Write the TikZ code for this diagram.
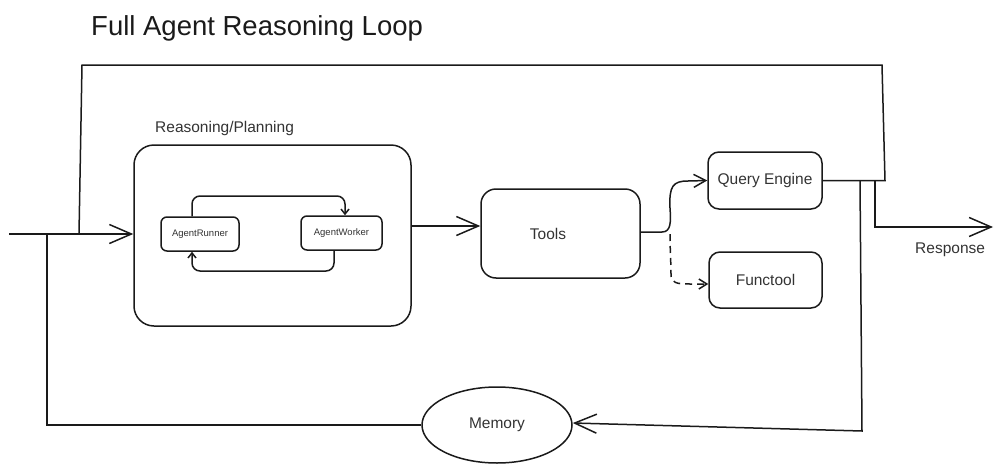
\documentclass[tikz,border=0pt]{standalone}
\usepackage{fontspec}
\setmainfont{Liberation Sans}
\usetikzlibrary{arrows.meta,shapes.geometric}
\definecolor{txt}{HTML}{333333}
\definecolor{ln}{HTML}{1A1A1A}
\tikzset{
  box/.style={draw=ln, line width=1.5pt, text=txt, font=\fontsize{15.5}{18}\selectfont, inner sep=0pt},
  smallbox/.style={draw=ln, line width=1.5pt, rounded corners=6pt, text=txt, font=\fontsize{9.5}{11}\selectfont, inner sep=0pt},
  conn/.style={draw=ln, line width=1.5pt},
  arr/.style={conn, -{Straight Barb[length=22pt, width=19pt, line width=1.5pt]}},
  arrs/.style={conn, -{Straight Barb[length=5pt, width=8pt, line width=1.5pt]}},
  lbl/.style={text=txt, font=\fontsize{15.5}{18}\selectfont, inner sep=0pt}
}
\begin{document}
\begin{tikzpicture}[x=1pt,y=-1pt]
\useasboundingbox (0,0) rectangle (1002,474);
% title and labels
\node[anchor=base west, inner sep=0pt, text=ln, font=\fontsize{27.5}{32}\selectfont] (title) at (91,35) {Full Agent Reasoning Loop};
\node[lbl, anchor=base west] (rplabel) at (155,132) {Reasoning/Planning};
% nodes
\node[box, rounded corners=20pt, minimum width=277pt, minimum height=181pt] (rp) at (272.5,235.5) {};
\node[smallbox, minimum width=78pt, minimum height=34pt] (ar) at (200,234) {AgentRunner};
\node[smallbox, minimum width=81pt, minimum height=34pt] (aw) at (341.5,233) {AgentWorker};
\node[box, rounded corners=15pt, minimum width=159pt, minimum height=89pt] (tools) at (560.5,233.5) {Tools\hspace*{25pt}};
\node[box, rounded corners=11pt, minimum width=114pt, minimum height=57pt] (qe) at (765,180.5) {Query Engine};
\node[box, rounded corners=11pt, minimum width=113pt, minimum height=56pt] (ft) at (765.5,280) {Functool};
\node[box, ellipse, minimum width=150pt, minimum height=76pt] (mem) at (497,425) {Memory};
\node[lbl, anchor=base west] (resp) at (915,253) {Response};
% coordinates
\coordinate (in) at (9,234);
\coordinate (arrowy) at (0,226);
\coordinate (topR) at (885,180.5);
\coordinate (topRt) at (882,65);
\coordinate (topLt) at (82,65);
\coordinate (topLb) at (79,234);
\coordinate (respA) at (875,180.5);
\coordinate (respB) at (875,227);
\coordinate (respEnd) at (993,227);
\coordinate (memA) at (860,180.5);
\coordinate (memB) at (862,431);
\coordinate (memL) at (47,425);
\coordinate (memLt) at (47,234);
% connectors
\draw[arr] (in) -- (in -| rp.west);
\draw[conn] (qe.east) -- (topR) -- (topRt) -- (topLt) -- (topLb);
\draw[arr] (respA) -- (respB) -- (respEnd);
\draw[arr] (memA) -- (memB) -- ([yshift=2pt]mem.east);
\draw[conn] (mem.west) -- (memL) -- (memLt);
\draw[arr] (rp.east |- arrowy) -- (tools.west |- arrowy);
\draw[arr, -{Straight Barb[length=12pt, width=13pt, line width=1.5pt]}] ([yshift=1.5pt]tools.east) -- (662,232) .. controls (671,232) and (671,222) .. (670,208) .. controls (669,186) and (673,181) .. (688,181) -- (qe.west);
\draw[conn, -{Straight Barb[length=8pt, width=10pt, line width=1.5pt]}, dash pattern=on 7pt off 5pt] (670,234) .. controls (670,250) and (671,262) .. (671,274) .. controls (671,283) and (676,284) .. (690,284) -- ([yshift=-4pt]ft.west);
\draw[arrs, rounded corners=8pt] ([xshift=-8pt]ar.north) |- (345,196) -- ([xshift=3.5pt]aw.north);
\draw[arrs, rounded corners=8pt] ([xshift=-7.5pt]aw.south) |- (192,271) -- ([xshift=-8pt]ar.south);
\end{tikzpicture}
\end{document}
